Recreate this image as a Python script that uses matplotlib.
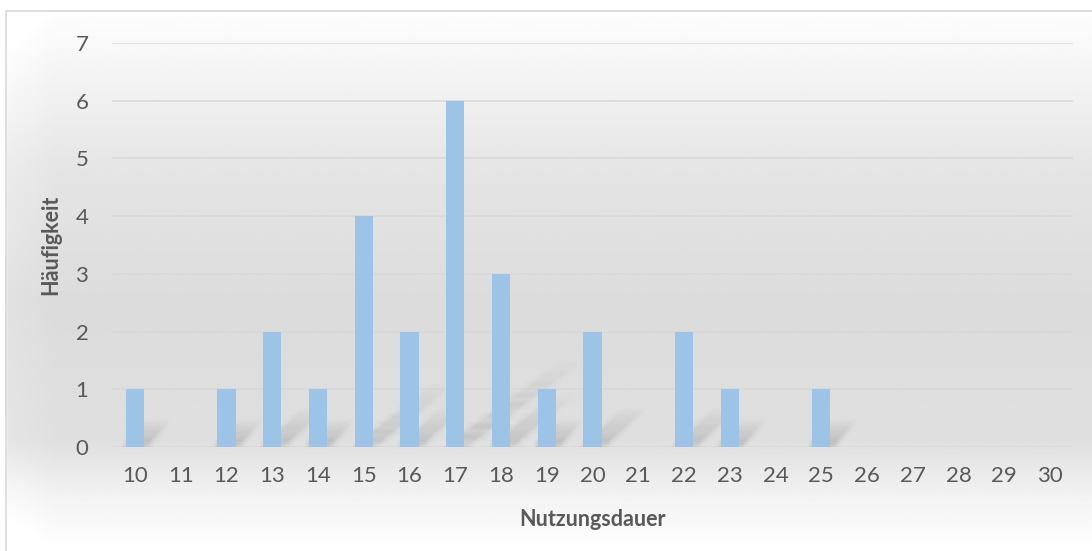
import numpy as np
import matplotlib.pyplot as plt
from matplotlib.patches import Rectangle, Polygon

# data
nutzungsdauer = list(range(10, 31))
haeufigkeit = [1, 0, 1, 2, 1, 4, 2, 6, 3, 1, 2, 0, 2, 1, 0, 1, 0, 0, 0, 0, 0]
y_ticks = list(range(0, 8))

plt.rcParams['font.family'] = ['Lato', 'DejaVu Sans']
text_color = '#595959'
bar_color = '#9dc3e6'
grid_color = '#d9d9d9'

W, H = 1092, 551
fig = plt.figure(figsize=(W / 100, H / 100), dpi=100)

# background gradient (white - gray - white, vertical)
bg = fig.add_axes([0, 0, 1, 1], zorder=-10)
bg.set_axis_off()
stops = [(0.0, 1.0), (0.02, 0.995), (0.3, 0.90), (0.55, 0.86), (0.8, 0.875), (0.9, 0.95), (1.0, 1.0)]
yy = np.linspace(0, 1, 400)
vals = np.interp(yy, [s[0] for s in stops], [s[1] for s in stops])
xx = np.linspace(0, 1, 300)
side = 1 + 0.03 * np.clip(1 - xx / 0.05, 0, 1)
img = np.clip(vals[:, None] * side[None, :], 0, 1)
bg.imshow(img, cmap='gray', vmin=0, vmax=1, aspect='auto', extent=[0, 1, 0, 1], origin='upper')
# white outside the chart frame (frame runs off the right and bottom edges)
bg.add_patch(Rectangle((0, 1 - 11 / H), 1, 11 / H, color='white', zorder=2))
bg.add_patch(Rectangle((0, 0), 6 / W, 1, color='white', zorder=2))
bg.add_patch(Rectangle((6 / W, -0.1), 1.2, 1.1 - 11 / H, fill=False, edgecolor='#d9d9d9', lw=1.2, zorder=3))
bg.set_xlim(0, 1)
bg.set_ylim(0, 1)

ax = fig.add_axes([112 / W, (H - 447) / H, (1073 - 112) / W, (447 - 43) / H])
ax.patch.set_alpha(0)

x = np.arange(len(nutzungsdauer))
bw = 0.4

# soft diagonal shadows behind the bars
for xi, h in zip(x, haeufigkeit):
    if h <= 0:
        continue
    dx = 0.1 + 0.4 * h
    dy = 0.25 + 0.2 * h
    nseg = 8
    for k in range(nseg):
        t0, t1 = k / nseg, (k + 1) / nseg
        a = 0.16 * (1 - t0) ** 1.2
        for spread in (0.0, 0.06, 0.12):
            pts = [
                (xi - bw / 2 + dx * t0 - spread, dy * t0 - spread * 0.6),
                (xi + bw / 2 + dx * t0 + spread, dy * t0 - spread * 0.6),
                (xi + bw / 2 + dx * t1 + spread, dy * t1 + spread * 0.6),
                (xi - bw / 2 + dx * t1 - spread, dy * t1 + spread * 0.6),
            ]
            ax.add_patch(Polygon(pts, closed=True, facecolor='#7a7a7a', edgecolor='none',
                                 alpha=a / 3, zorder=1))

ax.bar(x, haeufigkeit, width=bw, color=bar_color, zorder=3)

ax.set_xlim(-0.5, len(nutzungsdauer) - 0.5)
ax.set_ylim(0, 7)
ax.set_yticks(y_ticks)
ax.set_xticks(x)
ax.set_xticklabels([str(v) for v in nutzungsdauer])
ax.yaxis.grid(True, color=grid_color, lw=1.2, zorder=0)
ax.set_axisbelow(True)
for s in ax.spines.values():
    s.set_visible(False)
ax.tick_params(length=0, labelsize=16, colors=text_color)
ax.tick_params(axis='x', pad=14)
ax.tick_params(axis='y', pad=17)
ax.set_xlabel('Nutzungsdauer', fontsize=15.5, fontweight='bold', color=text_color, labelpad=16)
ax.set_ylabel('Häufigkeit', fontsize=15.5, fontweight='bold', color=text_color, labelpad=10)

fig.savefig('out.png', dpi=100)
